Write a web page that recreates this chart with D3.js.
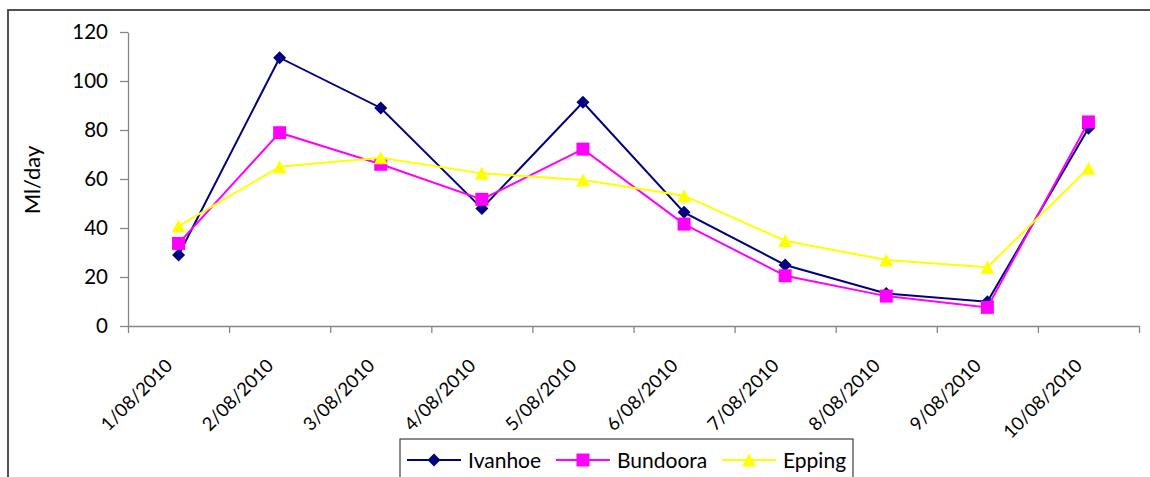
<!DOCTYPE html>
<html>
<head>
<meta charset="utf-8">
<script src="https://cdn.jsdelivr.net/npm/d3@7"></script>
<style>
  body { margin: 0; background: #fff; }
  svg { display: block; font-family: Lato, "Open Sans", sans-serif; }
  .axis path, .axis line { stroke: #868686; stroke-width: 1.3; }
  .axis text { fill: #000; }
</style>
</head>
<body>
<script>
// data
var dates = ["1/08/2010", "2/08/2010", "3/08/2010", "4/08/2010", "5/08/2010",
             "6/08/2010", "7/08/2010", "8/08/2010", "9/08/2010", "10/08/2010"];
var ivanhoe = [29, 109.5, 89, 48, 91.3, 46.4, 24.9, 13.3, 9.9, 80.7];
var bundoora = [33.7, 78.9, 66, 51.7, 72.2, 41.6, 20.5, 12.2, 7.6, 83.3];
var epping = [40.8, 65, 68.7, 62.3, 59.6, 53.2, 34.8, 26.9, 24, 64.4];
var yTicks = [0, 20, 40, 60, 80, 100, 120];

var series = [
    { name: "Ivanhoe", values: ivanhoe, color: "#000080", shape: "diamond" },
    { name: "Bundoora", values: bundoora, color: "#FF00FF", shape: "square" },
    { name: "Epping", values: epping, color: "#FFFF00", shape: "triangle" }
];

var W = 1150, H = 477;
var plot = { left: 128, right: 1139, top: 32, bottom: 326 };

var svg = d3.select("body").append("svg")
    .attr("width", W)
    .attr("height", H);

// chart frame (cut off on the right and bottom like the source)
svg.append("rect")
    .attr("x", 8).attr("y", 10)
    .attr("width", 1200).attr("height", 600)
    .attr("fill", "none")
    .attr("stroke", "#404040")
    .attr("stroke-width", 1.8);

var x = d3.scaleBand()
    .domain(dates)
    .range([plot.left, plot.right]);

var xEdge = d3.scaleLinear()
    .domain([0, dates.length])
    .range([plot.left, plot.right]);

var y = d3.scaleLinear()
    .domain([0, 120])
    .range([plot.bottom, plot.top]);

// y axis
svg.append("g")
    .attr("class", "axis")
    .attr("transform", "translate(" + plot.left + ",0)")
    .call(d3.axisLeft(y).tickValues(yTicks).tickSize(8).tickSizeOuter(0).tickPadding(12))
    .attr("font-family", null)
    .attr("font-size", 20.5);

// x axis, ticks on the category edges
svg.append("g")
    .attr("class", "axis")
    .attr("transform", "translate(0," + plot.bottom + ")")
    .call(d3.axisBottom(xEdge).tickValues(d3.range(dates.length + 1)).tickFormat("").tickSize(7).tickSizeOuter(0));

// rotated date labels
svg.append("g")
    .selectAll("text")
    .data(dates)
    .enter().append("text")
    .attr("transform", function (d) {
        return "translate(" + (x(d) + x.bandwidth() / 2 - 5) + "," + 367 + ") rotate(-45)";
    })
    .attr("text-anchor", "end")
    .style("font-size", "18.5px")
    .text(function (d) { return d; });

// y title
svg.append("text")
    .attr("transform", "translate(40,180) rotate(-90)")
    .attr("text-anchor", "middle")
    .style("font-size", "22px")
    .text("Ml/day");

function markerPath(shape) {
    if (shape == "diamond") return "M0,-6.5L6.5,0L0,6.5L-6.5,0Z";
    if (shape == "square") return "M-6.5,-6.5H6.5V6.5H-6.5Z";
    return "M0,-6.5L7,6.5L-7,6.5Z";
}

var line = d3.line()
    .x(function (d, i) { return x(dates[i]) + x.bandwidth() / 2; })
    .y(function (d) { return y(d); });

series.forEach(function (s) {
    var g = svg.append("g");
    g.append("path")
        .datum(s.values)
        .attr("fill", "none")
        .attr("stroke", s.color)
        .attr("stroke-width", 2)
        .attr("d", line);

    g.selectAll(".pt")
        .data(s.values)
        .enter().append("path")
        .attr("transform", function (d, i) {
            return "translate(" + (x(dates[i]) + x.bandwidth() / 2) + "," + y(d) + ")";
        })
        .attr("d", markerPath(s.shape))
        .attr("fill", s.color);
});

// legend
var legend = svg.append("g");
legend.append("rect")
    .attr("x", 400).attr("y", 439)
    .attr("width", 453).attr("height", 60)
    .attr("fill", "#fff")
    .attr("stroke", "#404040")
    .attr("stroke-width", 1.2);

var legendX = [407, 556, 722];
series.forEach(function (s, i) {
    var lx = legendX[i];
    legend.append("line")
        .attr("x1", lx).attr("x2", lx + 54)
        .attr("y1", 460).attr("y2", 460)
        .attr("stroke", s.color)
        .attr("stroke-width", 2);
    legend.append("path")
        .attr("transform", "translate(" + (lx + 27) + ",460)")
        .attr("d", markerPath(s.shape))
        .attr("fill", s.color);
    legend.append("text")
        .attr("x", lx + 61)
        .attr("y", 468)
        .style("font-size", "21px")
        .text(s.name);
});
</script>
</body>
</html>
